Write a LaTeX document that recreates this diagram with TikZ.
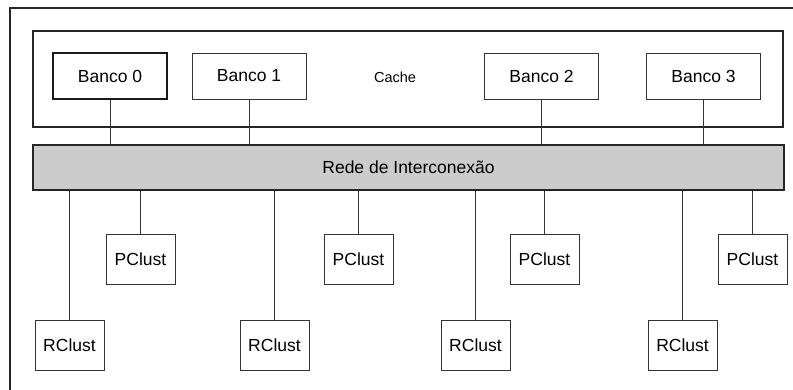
\documentclass[tikz,border=0pt]{standalone}
\usepackage{fontspec}
\setmainfont{Liberation Sans}
\begin{document}
\begin{tikzpicture}[x=1pt,y=-1pt,
  thick line/.style={line width=1.6pt,draw=black!85},
  thin line/.style={line width=0.9pt,draw=black!80},
  bank/.style={thin line,minimum width=114pt,minimum height=46pt,inner sep=0pt,font=\fontsize{17.5}{20}\selectfont},
  clust/.style={thin line,minimum width=69pt,minimum height=50pt,inner sep=0pt,font=\fontsize{17.5}{20}\selectfont},
  conn/.style={thin line}]
\useasboundingbox (0,0) rectangle (793,390);
% outer frame (top and left edges visible)
\draw[thick line] (10,390) -- (10,8) -- (793,8);
% cache
\node[thick line,draw,minimum width=750pt,minimum height=96pt,inner sep=0pt] (cache) at (408,79) {};
\node[font=\fontsize{14.5}{17}\selectfont] (cachelbl) at (395,77) {Cache};
\node[bank,draw,line width=1.6pt,draw=black!90] (b0) at (110,76) {Banco 0};
\node[bank,draw] (b1) at (249,76) {Banco 1};
\node[bank,draw] (b2) at (541.5,76) {Banco 2};
\node[bank,draw] (b3) at (703.5,76) {Banco 3};
% network
\node[thick line,draw,fill=black!20,minimum width=751pt,minimum height=45pt,inner sep=0pt,font=\fontsize{17.5}{20}\selectfont] (net) at (408.5,167.5) {Rede de Interconex\~ao};
% clusters
\node[clust,draw] (p1) at (140.5,259) {PClust};
\node[clust,draw] (p2) at (358.5,259) {PClust};
\node[clust,draw] (p3) at (544.5,259) {PClust};
\node[clust,draw] (p4) at (752.5,259) {PClust};
\node[clust,draw] (r1) at (69.5,345) {RClust};
\node[clust,draw] (r2) at (274.5,345) {RClust};
\node[clust,draw] (r3) at (475.5,345) {RClust};
\node[clust,draw] (r4) at (682.5,345) {RClust};
% connectors
\foreach \b in {b0,b1,b2,b3} \draw[conn] (\b.south) -- (\b.south |- net.north);
\foreach \c in {p1,p2,p3,p4,r1,r2,r3,r4} \draw[conn] (\c.north) -- (\c.north |- net.south);
\end{tikzpicture}
\end{document}
